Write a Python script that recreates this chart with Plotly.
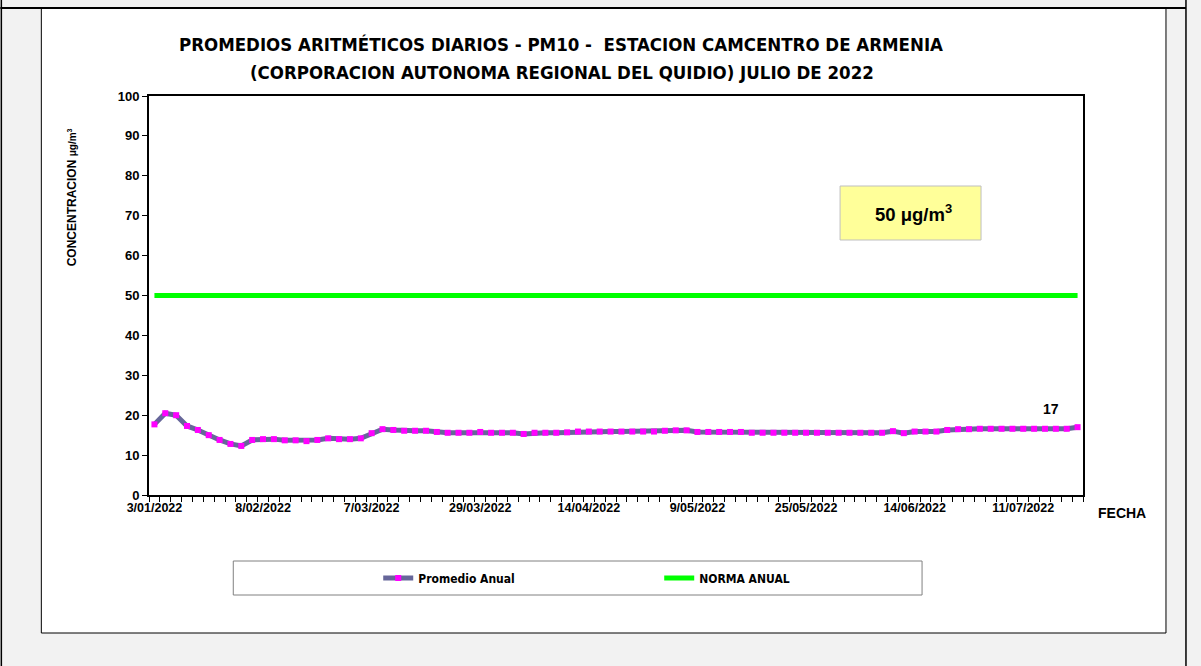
import plotly.graph_objects as go

# ---------------- data ----------------
fechas = [
    "3/01/2022", "6/01/2022", "10/01/2022", "13/01/2022", "17/01/2022", "20/01/2022",
    "24/01/2022", "27/01/2022", "31/01/2022", "4/02/2022",
    "8/02/2022", "11/02/2022", "13/02/2022", "16/02/2022", "19/02/2022", "22/02/2022",
    "24/02/2022", "26/02/2022", "1/03/2022", "4/03/2022",
    "7/03/2022", "9/03/2022", "11/03/2022", "14/03/2022", "16/03/2022", "18/03/2022",
    "20/03/2022", "22/03/2022", "24/03/2022", "26/03/2022",
    "29/03/2022", "30/03/2022", "1/04/2022", "3/04/2022", "4/04/2022", "6/04/2022",
    "7/04/2022", "9/04/2022", "10/04/2022", "12/04/2022",
    "14/04/2022", "17/04/2022", "19/04/2022", "22/04/2022", "24/04/2022", "27/04/2022",
    "29/04/2022", "2/05/2022", "4/05/2022", "7/05/2022",
    "9/05/2022", "10/05/2022", "12/05/2022", "14/05/2022", "15/05/2022", "17/05/2022",
    "18/05/2022", "20/05/2022", "21/05/2022", "23/05/2022",
    "25/05/2022", "27/05/2022", "29/05/2022", "31/05/2022", "2/06/2022", "4/06/2022",
    "6/06/2022", "8/06/2022", "10/06/2022", "12/06/2022",
    "14/06/2022", "17/06/2022", "20/06/2022", "22/06/2022", "25/06/2022", "27/06/2022",
    "30/06/2022", "2/07/2022", "5/07/2022", "8/07/2022",
    "11/07/2022", "14/07/2022", "17/07/2022", "20/07/2022", "23/07/2022", "26/07/2022",
]

promedio_anual = [
    17.7, 20.5, 20.0, 17.3, 16.3, 15.0, 13.8, 12.8, 12.3, 13.8,
    14.0, 14.0, 13.7, 13.7, 13.5, 13.8, 14.2, 14.0, 14.0, 14.2,
    15.5, 16.5, 16.3, 16.1, 16.1, 16.1, 15.8, 15.6, 15.6, 15.6,
    15.8, 15.6, 15.6, 15.6, 15.3, 15.6, 15.6, 15.6, 15.7, 15.9,
    15.9, 15.9, 15.9, 15.9, 15.9, 15.9, 15.9, 16.1, 16.2, 16.2,
    15.8, 15.8, 15.8, 15.8, 15.8, 15.6, 15.6, 15.6, 15.6, 15.6,
    15.6, 15.6, 15.6, 15.6, 15.6, 15.6, 15.6, 15.6, 16.0, 15.5,
    15.9, 15.9, 15.9, 16.3, 16.5, 16.5, 16.6, 16.6, 16.6, 16.6,
    16.6, 16.6, 16.6, 16.6, 16.6, 17.0,
]

norma_anual = [50] * len(fechas)

tick_labels_every = 10
y_ticks = [0, 10, 20, 30, 40, 50, 60, 70, 80, 90, 100]
etiqueta_valor = "17"
etiqueta_idx = 83

# ---------------- layout helpers ----------------
W, H = 1201, 666
L, R, T, B = 148.7, 1083.0, 96.0, 495.0


def px(x):
    return (x - L) / (R - L)


def py(y):
    return (B - y) / (B - T)


idx = list(range(len(fechas)))
label_idx = idx[::tick_labels_every]

fig = go.Figure()

fig.add_trace(go.Scatter(
    x=idx, y=promedio_anual, name="Promedio Anual", mode="lines+markers",
    line=dict(color="#666699", width=5),
    marker=dict(symbol="square", color="#FF00FF", size=6, line=dict(width=0)),
))
fig.add_trace(go.Scatter(
    x=idx, y=norma_anual, name="NORMA ANUAL", mode="lines",
    line=dict(color="#00FF00", width=5),
))

narrow = "Liberation Sans Narrow, Arial Narrow, DejaVu Sans Condensed, Arial"

fig.update_layout(
    width=W, height=H, autosize=False,
    margin=dict(l=L, r=W - R, t=T, b=H - B, pad=0),
    paper_bgcolor="#F2F2F2", plot_bgcolor="white",
    showlegend=True,
    legend=dict(
        orientation="h", x=px(378), y=py(578), xanchor="left", yanchor="middle",
        entrywidth=236, entrywidthmode="pixels",
        bgcolor="rgba(0,0,0,0)", borderwidth=0,
        font=dict(family=narrow, size=12, color="black", weight="bold"),
        itemwidth=30,
    ),
    xaxis=dict(
        range=[-0.5, len(fechas) - 0.5], showgrid=False, zeroline=False,
        tickmode="array", tickvals=label_idx, ticktext=[fechas[i] for i in label_idx],
        ticks="outside", ticklen=0, tickangle=0,
        tickfont=dict(family="Arial", size=12.5, color="black", weight="bold"),
        showline=True, linecolor="black", linewidth=2, mirror=True,
        minor=dict(tickmode="array", tickvals=[i - 0.5 for i in idx] + [len(fechas) - 0.5],
                   ticks="outside", ticklen=5, tickcolor="black", tickwidth=1, showgrid=False),
    ),
    yaxis=dict(
        range=[0, 100], tickmode="array", tickvals=y_ticks, showgrid=False, zeroline=False,
        ticks="outside", ticklen=5, tickcolor="black",
        tickfont=dict(family="Arial", size=13, color="black", weight="bold"),
        showline=True, linecolor="black", linewidth=2, mirror=True,
    ),
)

shapes = [
    # chart area
    dict(type="rect", xref="paper", yref="paper", x0=px(41), x1=px(1166), y0=py(633), y1=py(8),
         fillcolor="white", line=dict(color="black", width=1), layer="below"),
    # outer frame lines
    dict(type="line", xref="paper", yref="paper", x0=px(1), x1=px(1), y0=py(0), y1=py(666),
         line=dict(color="black", width=1.5)),
    dict(type="line", xref="paper", yref="paper", x0=px(1186), x1=px(1186), y0=py(0), y1=py(666),
         line=dict(color="black", width=1.5)),
    dict(type="line", xref="paper", yref="paper", x0=px(0), x1=px(1186), y0=py(8), y1=py(8),
         line=dict(color="black", width=2)),
    # legend box
    dict(type="rect", xref="paper", yref="paper", x0=px(233), x1=px(922), y0=py(595), y1=py(561),
         fillcolor="white", line=dict(color="#808080", width=1)),
    # yellow box
    dict(type="rect", xref="paper", yref="paper", x0=px(840), x1=px(981), y0=py(240), y1=py(186),
         fillcolor="#FFFF99", line=dict(color="#BFBFBF", width=1)),
]
fig.update_layout(shapes=shapes)

C = dict(xanchor="center", yanchor="middle", showarrow=False)
annotations = [
    dict(text="PROMEDIOS ARITMÉTICOS DIARIOS - PM10 -  ESTACION CAMCENTRO DE ARMENIA",
         xref="paper", yref="paper", x=px(561), y=py(45),
         font=dict(family=narrow, size=18.5, color="black", weight="bold"), **C),
    dict(text="(CORPORACION AUTONOMA REGIONAL DEL QUIDIO) JULIO DE 2022",
         xref="paper", yref="paper", x=px(562), y=py(72),
         font=dict(family=narrow, size=18.5, color="black", weight="bold"), **C),
    dict(text="CONCENTRACION <span style='font-size:10px'>μg/m<sup>3</sup></span>",
         xref="paper", yref="paper", x=px(72), y=py(197), textangle=-90,
         font=dict(family="Arial", size=12, color="black", weight="bold"), **C),
    dict(text="FECHA", xref="paper", yref="paper", x=px(1122), y=py(513),
         font=dict(family="Arial", size=14, color="black", weight="bold"), **C),
    dict(text="50 μg/m<sup>3</sup>", xref="paper", yref="paper", x=px(913), y=py(213),
         font=dict(family="Arial", size=18.5, color="black", weight="bold"), **C),
    dict(text=etiqueta_valor, x=etiqueta_idx, y=promedio_anual[etiqueta_idx], yshift=20, xshift=-5,
         font=dict(family="Arial", size=14, color="black", weight="bold"), **C),
]
fig.update_layout(annotations=annotations)

fig.write_html("out.html", config={"displayModeBar": False},
               post_script="document.body.style.margin='0';document.body.style.overflow='hidden';")
